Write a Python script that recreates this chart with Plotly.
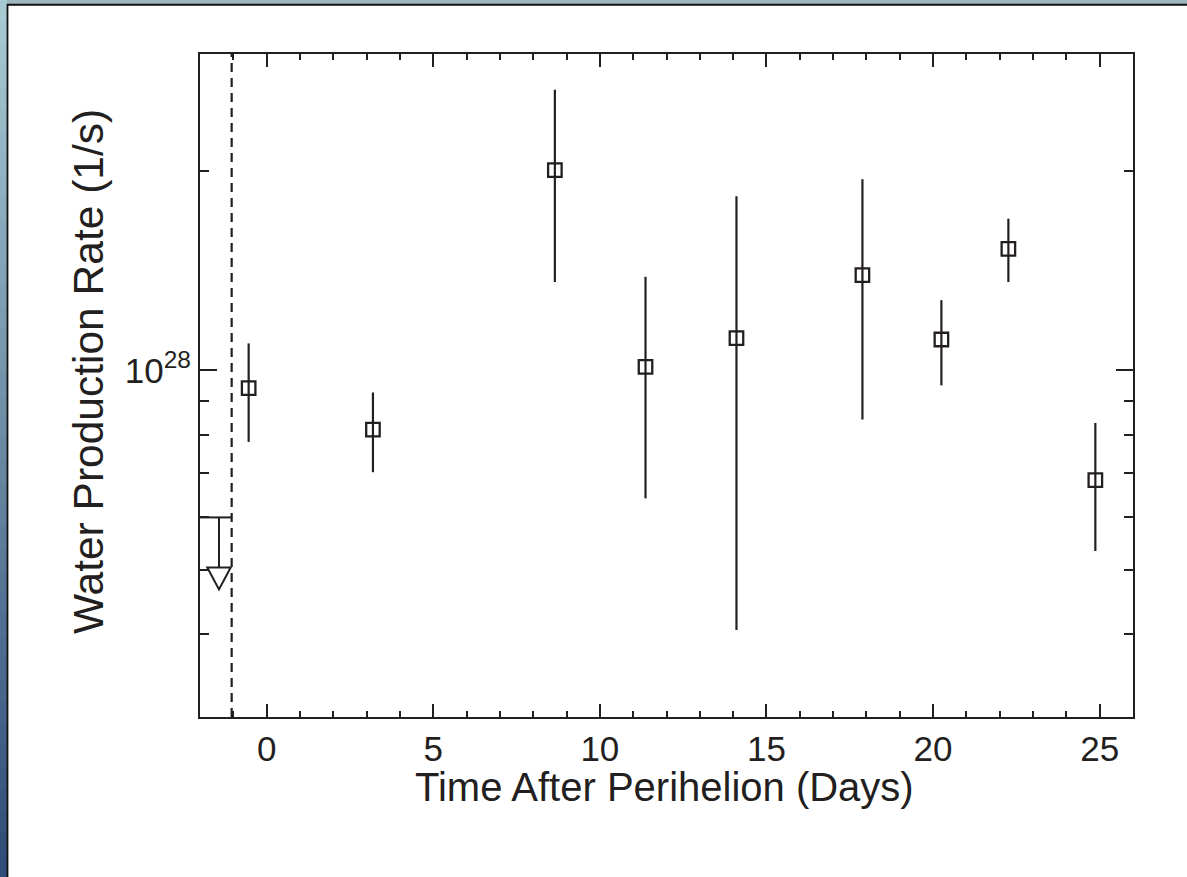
import math
import plotly.graph_objects as go

# ---- data ----
time_days = [-0.54, 3.19, 8.65, 11.37, 14.10, 17.88, 20.25, 22.26, 24.87]
rate = [9.40e27, 8.14e27, 2.005e28, 1.012e28, 1.118e28, 1.392e28, 1.113e28, 1.525e28, 6.83e27]
rate_hi = [1.098e28, 9.26e27, 2.65e28, 1.384e28, 1.831e28, 1.942e28, 1.276e28, 1.693e28, 8.33e27]
rate_lo = [7.80e27, 7.02e27, 1.359e28, 6.41e27, 4.06e27, 8.43e27, 9.49e27, 1.359e28, 5.34e27]

limit_time = -1.43
limit_rate = 6.0e27
limit_window = [-2.0, -1.05]
perihelion_line = -1.05

x_range = [-2, 26]
y_range = [3e27, 3e28]
x_major = [0, 5, 10, 15, 20, 25]
y_major = [1e28]
y_major_text = ["10<sup>28</sup>"]
y_minor = [3e27, 4e27, 5e27, 6e27, 7e27, 8e27, 9e27, 2e28, 3e28]

x_title = "Time After Perihelion (Days)"
y_title = "Water Production Rate (1/s)"

err_plus = [h - r for h, r in zip(rate_hi, rate)]
err_minus = [r - l for r, l in zip(rate, rate_lo)]

INK = "#231f20"
FONT = "Liberation Sans, Arial, Helvetica, sans-serif"

W, H = 1187, 877
L, R, T, B = 200, 54, 54, 160
pw, ph = W - L - R, H - T - B


def px2paper_x(px):
    return (px - L) / pw


def py2paper_y(py):
    return (H - B - py) / ph


fig = go.Figure()

# measurements
fig.add_trace(go.Scatter(
    x=time_days, y=rate, mode="markers",
    marker=dict(symbol="square-open", size=13.5, color=INK, line=dict(width=2.3, color=INK)),
    error_y=dict(type="data", symmetric=False, array=err_plus, arrayminus=err_minus,
                 color=INK, thickness=2.2, width=0),
    showlegend=False, cliponaxis=False, hoverinfo="skip",
))

# upper-limit window bar
fig.add_trace(go.Scatter(
    x=limit_window, y=[limit_rate, limit_rate], mode="lines",
    line=dict(color=INK, width=2), showlegend=False, hoverinfo="skip",
))

shapes = []
# arrow (stem + open triangle) anchored at the upper limit
shapes.append(dict(
    type="path", xref="x", yref="y", xsizemode="pixel", ysizemode="pixel",
    xanchor=limit_time, yanchor=limit_rate,
    path="M0,0 L0,-50 M-11.7,-50 L11.7,-50 L0,-72 Z",
    line=dict(color=INK, width=2), fillcolor="rgba(0,0,0,0)",
))
# dashed perihelion line
shapes.append(dict(
    type="line", xref="x", yref="paper", x0=perihelion_line, x1=perihelion_line, y0=0, y1=1,
    line=dict(color=INK, width=2.2, dash="9px,6px"), layer="above",
))

# decorative page frame: top band, left gradient band, black frame line
shapes.append(dict(type="rect", xref="paper", yref="paper",
                   x0=px2paper_x(0), x1=px2paper_x(W), y0=py2paper_y(0), y1=py2paper_y(4.5),
                   fillcolor="#9db6c1", line=dict(width=0), layer="below"))
n = 40
top_c = (0xa7, 0xc9, 0xd2)
bot_c = (0x2f, 0x4d, 0x78)
for i in range(n):
    f = i / (n - 1)
    c = tuple(int(round(a + (b - a) * f)) for a, b in zip(top_c, bot_c))
    shapes.append(dict(type="rect", xref="paper", yref="paper",
                       x0=px2paper_x(0), x1=px2paper_x(7),
                       y0=py2paper_y(H * i / n), y1=py2paper_y(H * (i + 1) / n + 1),
                       fillcolor="rgb(%d,%d,%d)" % c, line=dict(width=0), layer="below"))
shapes.append(dict(type="path", xref="paper", yref="paper",
                   path="M %f,%f L %f,%f L %f,%f" % (
                       px2paper_x(7.5), py2paper_y(H + 2),
                       px2paper_x(7.5), py2paper_y(4.75),
                       px2paper_x(W + 2), py2paper_y(4.75)),
                   line=dict(color="#111111", width=1.8), layer="below"))

annotations = [
    dict(text=y_title, xref="paper", yref="paper", x=px2paper_x(88), y=py2paper_y(372),
         xanchor="center", yanchor="middle", textangle=-90, showarrow=False,
         font=dict(size=42.5, family=FONT, color=INK)),
    dict(text=x_title, xref="paper", yref="paper", x=px2paper_x(664), y=py2paper_y(787),
         xanchor="center", yanchor="middle", showarrow=False,
         font=dict(size=40, family=FONT, color=INK)),
]

fig.update_layout(
    width=W, height=H,
    margin=dict(l=L, r=R, t=T, b=B, pad=0),
    paper_bgcolor="white", plot_bgcolor="white",
    font=dict(family=FONT, color=INK),
    shapes=shapes,
    annotations=annotations,
    showlegend=False,
    hovermode=False,
)

fig.update_xaxes(
    range=x_range, tickmode="array", tickvals=x_major,
    ticks="inside", ticklen=13, tickwidth=2, tickcolor=INK,
    minor=dict(dtick=1, ticks="inside", ticklen=6, tickwidth=2, tickcolor=INK),
    showline=True, linewidth=2, linecolor=INK, mirror="allticks",
    showgrid=False, zeroline=False,
    tickfont=dict(size=35, family=FONT, color=INK),
)
fig.update_yaxes(
    type="log", range=[math.log10(y_range[0]), math.log10(y_range[1])],
    tickmode="array", tickvals=y_major, ticktext=y_major_text,
    ticks="inside", ticklen=17, tickwidth=2, tickcolor=INK,
    minor=dict(tickmode="array", tickvals=y_minor, ticks="inside", ticklen=9, tickwidth=2, tickcolor=INK),
    showline=True, linewidth=2, linecolor=INK, mirror="allticks",
    showgrid=False, zeroline=False,
    tickfont=dict(size=35, family=FONT, color=INK),
)

fig.write_html("out.html", config={"displayModeBar": False},
               post_script="document.body.style.margin='0';document.body.style.overflow='hidden';")
